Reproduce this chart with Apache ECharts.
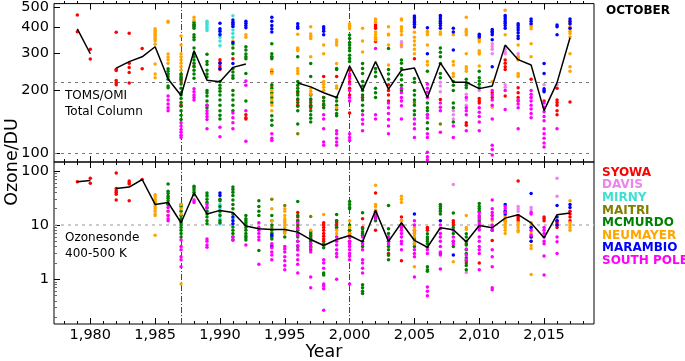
<!DOCTYPE html>
<html>
<head>
<meta charset="utf-8">
<script src="https://cdn.jsdelivr.net/npm/echarts@6/dist/echarts.min.js"></script>
<style>
  html, body { margin: 0; padding: 0; background: #fff; }
  #chart { width: 685px; height: 361px; }
</style>
</head>
<body>
<div id="chart"></div>
<script>
const STATIONS = ['SYOWA', 'DAVIS', 'MIRNY', 'MAITRI', 'MCMURDO', 'NEUMAYER', 'MARAMBIO', 'SOUTH POLE'];
const COLORS = ['#ff0000', '#ee82ee', '#40e0d0', '#808000', '#008000', '#ffa500', '#0000ff', '#ff00ff'];

const years = [1979, 1980, 1981, 1982, 1983, 1984, 1985, 1986, 1987, 1988, 1989, 1990, 1991, 1992, 1993, 1994, 1995, 1996, 1997, 1998,
  1999, 2000, 2001, 2002, 2003, 2004, 2005, 2006, 2007, 2008, 2009, 2010, 2011, 2012, 2013, 2014, 2015, 2016, 2017];

// yearly mean (black line), null = no value
const tomsMean = [395, 300, null, 256, 275, 290, 324, 227, 189, 310, 224, 220, 258, 268, null, null, null, 217, 208, 195,
  185, 262, 200, 275, 203, 250, 256, 185, 271, 219, 219, 204, 210, 330, 281, 265, 160, 218, 358];
const sondeMean = [63, 66, null, 47, 50, 69, 24, 26, 11, 39, 16, 18.6, 17, 9.6, 8.5, 8.3, 8.3, 7.4, 5.4, 4.2,
  5.4, 6.4, 4.9, 18.6, 5.0, 11, 5.2, 3.9, 8.9, 8.2, 4.9, 9.8, 8.9, 13.4, 15.5, 10.9, 5.8, 15.5, 16.6];

// TOMS/OMI total column (DU), [year, [values]]
const tomsSyowa = [[1979, [460, 383]], [1980, [315, 283]], [1982, [380, 253, 249, 223, 218, 213]], [1983, [376, 270, 258, 244, 217]],
  [1984, [318, 254]], [1987, [238, 230, 222, 170]], [1988, [410, 262]], [1990, [281, 272, 262, 252]], [1991, [284]],
  [1992, [153, 148, 146]], [1994, [289, 246]], [1996, [195, 180, 170]], [1997, [192, 180, 170, 165]], [1998, [233, 185, 170]],
  [1999, [233]], [2000, [250, 235, 220, 205, 190, 156]], [2001, [185]], [2002, [412, 404, 398, 350, 343]], [2003, [213, 200, 190, 178]],
  [2005, [284]], [2007, [181]], [2009, [140, 136]], [2010, [183, 178, 174]], [2011, [195, 185]], [2012, [280, 270, 260, 252, 188]],
  [2013, [206, 195, 185, 178]], [2014, [226]], [2015, [178]], [2016, [205, 180, 175, 170, 160, 153]], [2017, [176]]];
const tomsDavis = [[2004, [342, 335, 324]], [2007, [219, 210, 197]], [2008, [160, 153, 146]], [2009, [192, 180, 170]], [2010, [200]],
  [2011, [335, 325, 315, 300]], [2012, [324, 315, 306, 300, 213, 207]], [2013, [300, 290, 281]], [2014, [185]], [2015, [213]], [2016, [213]]];
const tomsMirny = [[1989, [430, 422, 415, 405, 398, 388]], [1990, [390, 375, 360, 345, 328]], [1991, [457, 420, 405, 390, 375, 360]]];
const tomsMaitri = [[1994, [210]], [1996, [124]], [2005, [175]], [2007, [138]]];
const tomsMcmurdo = [[1986, [254, 247, 240, 233, 226, 210, 206]], [1987, [240, 232, 226, 215, 205, 195, 190, 183, 175, 168, 160, 152, 145]],
  [1988, [425, 415, 405, 398, 370, 360, 350, 320, 300, 290, 280, 270, 260, 250, 240, 229]],
  [1989, [298, 275, 266, 250, 240, 232, 200, 195, 188, 178, 170, 165]], [1990, [221, 212, 205, 198, 190, 180, 170, 160, 152, 146]],
  [1991, [334, 320, 300, 255, 245, 235, 229, 200, 190, 180, 170, 160]], [1992, [324, 313, 299, 290, 284, 241, 178]],
  [1994, [335, 300, 290, 284, 213, 205, 195, 185, 175, 151, 144, 136]], [1996, [290, 221, 212, 205, 198, 190, 182, 175, 168, 160, 138]],
  [1997, [269, 233, 190, 182, 175, 168, 160, 153, 147, 141]], [1998, [185, 178, 172, 165]], [1999, [255, 252, 185, 178, 170, 162, 155, 151]],
  [2000, [369, 355, 340, 330, 320, 310, 295, 285, 275]], [2001, [269, 255, 241, 221, 210, 200, 190, 180, 170, 160]],
  [2002, [255, 245, 233, 205, 195, 185]], [2003, [318, 252, 240, 226]], [2004, [280, 270, 255, 237, 225, 212, 200]],
  [2005, [228, 219, 200, 190, 180, 170, 160, 153]], [2006, [247, 174, 165, 160, 153, 140, 131]], [2007, [320, 305, 290, 269, 241, 230]],
  [2008, [221, 212, 200, 174, 165, 141]], [2009, [226, 218, 212, 206]], [2010, [247, 230, 222, 214, 206]]];
const tomsNeumayer = [[1985, [395, 388, 381, 375, 368, 360, 352, 345, 333, 268, 240, 230]], [1986, [430, 425, 299, 289, 281, 270]],
  [1987, [365, 330, 300, 290, 280, 270, 260, 250]], [1988, [449, 436]], [1991, [345]], [1992, [370, 360]],
  [1994, [251, 241, 200, 190, 180, 170, 160]], [1996, [372, 320, 315, 310, 255, 248, 241]], [1997, [404, 373, 364, 355, 290, 205, 198, 192]],
  [1998, [390, 330, 300, 221, 214, 207, 200]], [1999, [349, 340, 330, 269, 210, 205, 165]], [2000, [418, 410, 403, 395]],
  [2001, [398, 345, 306]], [2002, [440, 432, 425, 381, 370, 360, 349]], [2003, [404, 372, 369, 330, 265]],
  [2004, [440, 435, 404, 395, 385, 370, 330]], [2005, [449, 430, 400, 380, 360, 345, 330, 315, 300]], [2006, [385, 378, 370, 330, 275, 265, 185]],
  [2007, [381, 372]], [2008, [370, 275, 265, 241, 233]], [2009, [449, 392, 385, 378, 370, 300, 260, 254, 247]],
  [2010, [355, 350, 342, 310, 304, 299, 262]], [2011, [221, 166]], [2012, [485, 370]], [2013, [330, 290, 285, 281, 241, 237, 233]],
  [2014, [415, 405, 395, 335, 290]], [2017, [430, 418, 405, 395, 385, 375, 361, 300, 260, 247]]];
const tomsMarambio = [[1990, [420, 395, 385, 370, 270, 255]], [1991, [435, 425, 415, 405, 340, 269]], [1992, [430, 420, 410, 400]],
  [1994, [449, 430, 410, 395, 381]], [1996, [418, 405, 398]], [1998, [404, 395, 385, 370]], [2005, [455, 445, 435, 425, 415, 404]],
  [2006, [400, 300]], [2007, [458, 450, 440, 430, 420, 410, 398]], [2008, [398, 381, 313]], [2010, [372, 365, 361]],
  [2011, [392, 385, 378, 370, 350, 260]], [2012, [458, 450, 440, 430, 420, 410, 398]], [2013, [418, 410, 400, 390, 378, 365, 355]],
  [2014, [440, 430, 418]], [2015, [269, 241, 204, 200, 197]], [2016, [412, 404, 370]], [2017, [440, 428, 418, 398]]];
const tomsSouthPole = [[1986, [188, 180, 172, 165, 160]], [1987, [140, 135, 130, 126, 122, 119]], [1988, [204, 197, 190, 185, 180]],
  [1989, [170, 160, 155, 150, 145, 131]], [1990, [133, 120]], [1991, [156, 148, 140, 131]], [1992, [222, 212, 160, 114]],
  [1994, [124, 118, 115]], [1998, [153, 146, 131, 113, 109]], [1999, [128, 124, 118, 113, 109]],
  [2000, [240, 228, 215, 200, 185, 178, 124, 119, 115]], [2001, [153, 145, 138, 128]], [2002, [318, 153, 146]],
  [2003, [174, 165, 155, 145, 135, 124]], [2004, [205, 195, 185, 178, 169, 146]], [2005, [146, 138, 131, 119]],
  [2006, [215, 205, 196, 185, 153, 148, 124, 119, 101, 96, 93]], [2007, [174, 166, 160, 126]], [2008, [135, 119]],
  [2009, [185, 165, 160, 153, 128]], [2010, [165, 157, 150, 141, 128]], [2011, [200, 190, 180, 170, 146, 109, 104, 98]],
  [2012, [200, 162]], [2013, [180, 172, 165, 131]], [2014, [200, 192, 185, 178, 170, 163, 155, 148]],
  [2015, [174, 166, 158, 150, 143, 131, 124, 118, 112, 107]], [2016, [131]]];

// Ozonesonde 400-500 K (DU)
const sondeSyowa = [[1979, [63]], [1980, [73, 59]], [1982, [91, 47, 43, 40, 37, 29]], [1983, [65, 60, 57, 28]], [1984, [69]],
  [1996, [17, 14, 12, 9]], [1997, [7, 6, 5.3, 4.5, 3.5]], [1998, [11, 10, 9, 8, 7, 6.2, 5.5, 5, 4.3]], [1999, [12, 11, 10, 9]],
  [2000, [8, 7, 6, 5]], [2001, [13, 9, 7]], [2002, [39, 8]], [2003, [3, 2.8]], [2004, [14, 12, 10, 2.2]], [2005, [8, 7]],
  [2006, [9, 8.5, 8]], [2008, [12, 11, 10]], [2009, [4.5, 2]], [2010, [2]], [2011, [5.2]], [2012, [12]],
  [2013, [65, 15, 14, 13, 12]], [2015, [14, 13, 12]], [2016, [12, 11, 10, 9]], [2017, [18, 16, 14, 12]]];
const sondeDavis = [[1988, [30]], [2003, [5.5]], [2008, [56]], [2009, [1.33]], [2012, [15]], [2013, [22, 20, 18]], [2014, [21, 19]],
  [2016, [73, 34]]];
const sondeMirny = [[1989, [33, 26, 20]], [1990, [24, 20, 16, 13, 10.4]], [1991, [13]]];
const sondeMaitri = [[1994, [30, 9, 7]], [1995, [23, 7.5]], [1997, [14.4]]];
const sondeMcmurdo = [[1986, [57, 42, 38, 34, 31, 28, 25, 24]], [1987, [24, 22, 18, 15, 13, 12, 11, 10, 9, 8, 7, 6]],
  [1988, [52, 48, 44, 40, 36]], [1989, [39, 35, 30, 26, 21, 18, 16, 14, 12, 10.5]], [1990, [30, 28, 22, 18, 15, 12, 11]],
  [1991, [50, 45, 40, 35, 29, 24, 20, 16, 9.2, 8, 7, 6, 5.3]], [1992, [15, 13, 12, 11, 10, 9, 8, 7, 6.3, 5.8, 5.3]],
  [1993, [28, 22, 18, 15, 3.4]], [1994, [15, 12, 10, 8, 7, 6, 5.5]], [1995, [6]], [1996, [27, 15, 12, 10, 8, 7, 6, 5, 4, 3.5]],
  [1997, [7.5, 6.5, 5.6, 5, 4]], [1998, [4.5, 3.8, 1.3, 1.2]], [1999, [15.7, 12, 9]], [2000, [27, 24, 21, 20, 10, 8, 6]],
  [2001, [16.8, 8.5, 7.5, 6.5, 5, 4, 0.79, 0.7, 0.6, 0.55]], [2002, [18, 16, 14, 13, 12]], [2003, [23, 8.5, 7, 6, 5, 4, 3.5, 2.8, 2.3]],
  [2005, [6, 5.5, 4.5, 4]], [2006, [6.9, 6, 5.5, 5, 4.5, 3.9, 1.7, 1.5, 1.4]], [2007, [24, 22, 20, 18, 16, 3]],
  [2008, [16.6, 9, 7, 5, 4]], [2009, [6.9, 6, 5, 4.3, 3.5, 3, 2.5, 2.2, 1.8, 1.5]], [2010, [25, 22, 20, 18, 14, 12]]];
const sondeNeumayer = [[1985, [36, 33, 30, 28, 26, 24, 22, 20, 18, 16, 15, 6.5]], [1986, [18, 15]], [1987, [24, 20, 16, 0.82]],
  [1994, [20, 12, 4]], [1995, [20, 18, 15, 13, 12, 11, 10, 9, 8, 7]], [1997, [8]], [1998, [15.7]], [1999, [8, 7, 6, 5]],
  [2000, [12, 9, 7]], [2002, [54, 24, 22, 19]], [2004, [34, 30, 26, 12, 9]], [2005, [9, 8, 7, 6, 5, 4.5, 1.7]], [2008, [2.1]],
  [2009, [15, 9, 8.3]], [2010, [9.5]], [2011, [15, 12]], [2012, [14, 12, 11, 10, 9, 8, 7]], [2013, [11, 10, 9, 8, 7.5]],
  [2014, [11, 10, 9, 8, 7, 6, 5, 4.2, 3.7, 1.22]], [2017, [28, 11, 10, 9, 8]]];
const sondeMarambio = [[1990, [39, 35]], [1991, [14, 12, 10.5]], [1994, [6.5, 4.1]], [2005, [16]], [2007, [12]], [2008, [2.8]],
  [2011, [8]], [2012, [24, 18, 16]], [2014, [38, 9, 6, 5]], [2016, [23, 14, 12, 10]], [2017, [24, 21]]];
const sondeSouthPole = [[1986, [21, 18, 15, 13, 12]], [1987, [5.3, 4, 3.5, 2.6, 2.3, 1.7]], [1988, [26, 28]],
  [1989, [24, 21, 5.5, 5, 4.3, 3.9]], [1991, [5.3, 6]], [1992, [4.3]], [1993, [11, 9, 8, 7, 6, 5.3, 1.9]],
  [1994, [4.5, 3.8, 3.2, 2.8, 2.3]], [1995, [4, 3.6, 3.2, 2.6, 2.2, 1.8, 1.5]], [1996, [11, 8.5, 6.5, 5, 4.2, 3.5, 2.8, 2.3, 1.9, 1.3]],
  [1997, [4.5, 3.8, 3.2, 1.1, 0.7]], [1998, [2.3, 2, 1.6, 0.82, 0.75, 0.67, 0.27]], [1999, [6, 5, 4.3, 3.5, 3, 2.6, 1]],
  [2000, [6, 5, 4.5, 4, 3.5, 3, 2.7, 2.3, 0.82]], [2001, [6, 4.5, 3.5, 2.3, 2, 1.6, 1.3]], [2002, [17, 15, 13]], [2003, [6, 5, 4.5]],
  [2004, [10, 9, 8, 7, 6, 5, 4.5, 3.5]], [2005, [12, 10, 3.5, 3, 2.6, 1.1]], [2006, [3.5, 3, 0.72, 0.6, 0.5]],
  [2007, [10, 8.5, 7, 6, 5, 4, 3.2, 2.8, 1.55]], [2008, [8, 6, 5, 4.5]], [2009, [3.6, 2.8, 2.3]],
  [2010, [17, 15, 13, 11, 10, 9, 8.1, 6, 5, 4, 3.5, 3, 1.5]], [2011, [29, 20, 17, 15, 13, 10, 9, 8, 3.5, 2.6, 1.7, 0.7, 0.64]],
  [2012, [22, 20, 17]], [2014, [17, 16, 8, 6.5]], [2015, [9, 8, 7, 6, 5, 4.5, 2.7, 1.2]], [2016, [6, 4.9, 3]]];

const tomsData = [tomsSyowa, tomsDavis, tomsMirny, tomsMaitri, tomsMcmurdo, tomsNeumayer, tomsMarambio, tomsSouthPole];
const sondeData = [sondeSyowa, sondeDavis, sondeMirny, sondeMaitri, sondeMcmurdo, sondeNeumayer, sondeMarambio, sondeSouthPole];

const majorYears = [1980, 1985, 1990, 1995, 2000, 2005, 2010, 2015];
const minorYears = [1978, 1979, 1981, 1982, 1983, 1984, 1986, 1987, 1988, 1989, 1991, 1992, 1993, 1994, 1996, 1997, 1998, 1999,
  2001, 2002, 2003, 2004, 2006, 2007, 2008, 2009, 2011, 2012, 2013, 2014, 2016, 2017, 2018];
const topTicks = [100, 200, 300, 400, 500];
const bottomTicks = [1, 10, 100];
const bottomMinor = [0.2, 0.3, 0.4, 0.5, 0.6, 0.7, 0.8, 0.9, 2, 3, 4, 5, 6, 7, 8, 9, 20, 30, 40, 50, 60, 70, 80, 90];

const X_MIN = 1977.2, X_MAX = 2018.85;
const TOP_MIN = 90.7, TOP_MAX = 522;
const BOT_MIN = 0.15, BOT_MAX = 145;
const FONT = 'DejaVu Sans';
const lg = Math.log10;

const flat = rows => {
  const out = [];
  rows.forEach(([yr, vals]) => vals.forEach(v => out.push([yr, v])));
  return out;
};

// one axis per side per grid; grids 2 and 3 are overlays that carry the minor ticks
const xAxis = (grid, pos, ticks, len, labels) => ({
  type: 'value', gridIndex: grid, position: pos, min: X_MIN, max: X_MAX,
  splitLine: { show: false }, axisLine: { show: false, onZero: false },
  axisTick: { show: true, inside: true, length: len, customValues: ticks, lineStyle: { color: '#000', width: 1 } },
  axisLabel: labels
    ? { customValues: ticks, color: '#000', fontFamily: FONT, fontSize: 14.5, margin: 4 }
    : { show: false },
});

// log axes carry the data, value axes in log10 units carry the tick marks / labels
const tickAxis = (grid, lo, hi, ticks, len, labels, color) => ({
  type: 'value', gridIndex: grid, position: 'left', min: lg(lo), max: lg(hi),
  splitLine: { show: false }, axisLine: { show: false, onZero: false },
  axisTick: { show: true, inside: true, length: len, customValues: ticks.map(lg), lineStyle: { color: color, width: 1 } },
  axisLabel: labels
    ? { customValues: ticks.map(lg), formatter: v => String(Math.round(Math.pow(10, v))), color: '#000', fontFamily: FONT, fontSize: 14.5, margin: 5 }
    : { show: false },
});

const xAxes = [
  xAxis(0, 'bottom', majorYears, 6, false),
  xAxis(0, 'top', majorYears, 6, false),
  xAxis(1, 'bottom', majorYears, 6, true),
  xAxis(1, 'top', majorYears, 6, false),
  xAxis(2, 'bottom', minorYears, 3, false),
  xAxis(2, 'top', minorYears, 3, false),
  xAxis(3, 'bottom', minorYears, 3, false),
  xAxis(3, 'top', minorYears, 3, false),
];

const yAxes = [
  tickAxis(0, TOP_MIN, TOP_MAX, topTicks, 6, true, '#000'),
  { type: 'log', gridIndex: 0, position: 'right', min: TOP_MIN, max: TOP_MAX, show: false, axisLine: { onZero: false } },
  tickAxis(1, BOT_MIN, BOT_MAX, bottomTicks, 6, true, '#000'),
  { type: 'log', gridIndex: 1, position: 'right', min: BOT_MIN, max: BOT_MAX, show: false, axisLine: { onZero: false } },
  { type: 'value', gridIndex: 2, position: 'right', min: 5, max: 6, show: false, axisLine: { onZero: false } },
  tickAxis(3, BOT_MIN, BOT_MAX, bottomMinor, 3, false, '#666'),
];

const hLine = (v, color, width) => ({ yAxis: v, lineStyle: { color: color, width: width, type: [3, 4] } });
const vLine = v => ({ xAxis: v, lineStyle: { color: '#444', width: 1, type: [6, 2, 1, 2] } });

const series = [];
[[tomsData, tomsMean, 0, 1], [sondeData, sondeMean, 2, 3]].forEach(([sets, mean, xIdx, yIdx]) => {
  sets.forEach((rows, i) => {
    series.push({
      type: 'scatter', name: STATIONS[i], xAxisIndex: xIdx, yAxisIndex: yIdx,
      data: flat(rows), symbolSize: 3.5, itemStyle: { color: COLORS[i], opacity: 1 },
      silent: true, animation: false, z: 2,
    });
  });
  const guides = xIdx === 0
    ? [hLine(220, '#777', 1), hLine(100, '#777', 1), vLine(1987), vLine(2000)]
    : [hLine(10, '#bbb', 1.5), vLine(1987), vLine(2000)];
  series.push({
    type: 'line', xAxisIndex: xIdx, yAxisIndex: yIdx,
    data: years.map((y, i) => [y, mean[i] == null ? '-' : mean[i]]),
    symbol: 'none', connectNulls: false, lineStyle: { color: '#000', width: 1.5 },
    silent: true, animation: false, z: 4,
    markLine: { symbol: 'none', silent: true, animation: false, label: { show: false }, data: guides, z: 1 },
  });
});

const txt = (x, y, text, opts) => ({
  type: 'text', x: x, y: y, silent: true,
  style: Object.assign({ text: text, fill: '#000', font: '12px "DejaVu Sans"', textVerticalAlign: 'middle' }, opts || {}),
});

const graphics = [
  txt(606, 11, 'OCTOBER', { font: 'bold 12px "DejaVu Sans"' }),
  txt(65, 96, 'TOMS/OMI'),
  txt(65, 112, 'Total Column'),
  txt(65, 238, 'Ozonesonde'),
  txt(65, 254, '400-500 K'),
  txt(324, 352, 'Year', { font: '17.5px "DejaVu Sans"', textAlign: 'center' }),
  { type: 'text', x: 12, y: 162, rotation: Math.PI / 2, silent: true,
    style: { text: 'Ozone/DU', fill: '#000', font: '17.5px "DejaVu Sans"', textAlign: 'center', textVerticalAlign: 'middle' } },
];
STATIONS.forEach((s, i) => {
  graphics.push(txt(602, 172.7 + 12.6 * i, s, { font: 'bold 12px "DejaVu Sans"', fill: COLORS[i] }));
});

const panel = (top, height, border) => ({
  left: 54, top: top, width: 540, height: height, show: border, borderColor: '#000', borderWidth: 1, backgroundColor: 'transparent',
});

const chart = echarts.init(document.getElementById('chart'), null, { renderer: 'canvas' });
chart.setOption({
  animation: false,
  backgroundColor: '#fff',
  grid: [panel(1, 161, true), panel(162, 162, true), panel(1, 161, false), panel(162, 162, false)],
  xAxis: xAxes,
  yAxis: yAxes,
  series: series,
  graphic: graphics,
});
</script>
</body>
</html>
